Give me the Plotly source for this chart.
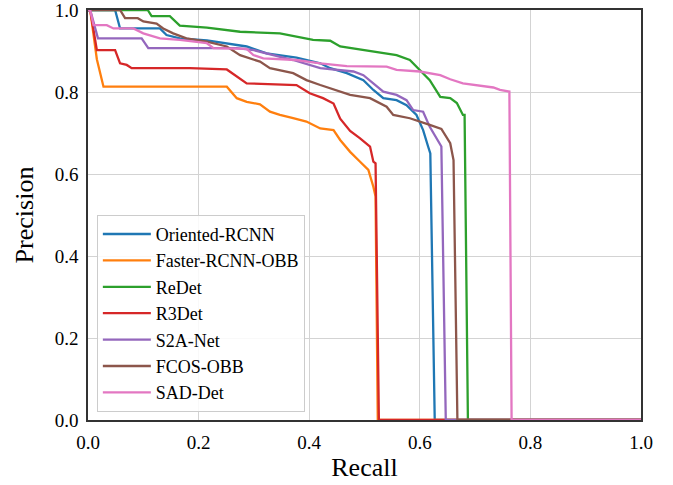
import plotly.graph_objects as go

names = ["Oriented-RCNN", "Faster-RCNN-OBB", "ReDet", "R3Det", "S2A-Net", "FCOS-OBB", "SAD-Det"]
colors = ["#1f77b4", "#ff7f0e", "#2ca02c", "#d62728", "#9467bd", "#8c564b", "#e377c2"]

oriented_r = [0, 0.049, 0.058, 0.130, 0.142, 0.166, 0.215, 0.245, 0.287, 0.323, 0.377, 0.42, 0.438, 0.468, 0.498,
              0.516, 0.534, 0.558, 0.576, 0.594, 0.606, 0.615, 0.619, 0.627, 1.0]
oriented_p = [1.0, 1.0, 0.955, 0.955, 0.939, 0.931, 0.926, 0.919, 0.911, 0.894, 0.884, 0.870, 0.858, 0.846, 0.829,
              0.805, 0.785, 0.780, 0.768, 0.744, 0.707, 0.667, 0.650, 0.0, 0.0]

faster_r = [0, 0.004, 0.016, 0.028, 0.251, 0.269, 0.287, 0.311, 0.329, 0.347, 0.371, 0.395, 0.42, 0.444, 0.456,
            0.474, 0.492, 0.507, 0.516, 0.520, 0.524, 1.0]
faster_p = [1.0, 1.0, 0.88, 0.813, 0.813, 0.785, 0.776, 0.770, 0.752, 0.744, 0.736, 0.728, 0.711, 0.707, 0.683,
            0.654, 0.630, 0.610, 0.569, 0.545, 0.0, 0.0]

redet_r = [0, 0.108, 0.115, 0.148, 0.166, 0.215, 0.275, 0.347, 0.407, 0.438, 0.456, 0.497, 0.558, 0.582, 0.600,
           0.618, 0.637, 0.655, 0.667, 0.678, 0.681, 0.687, 1.0]
redet_p = [1.0, 1.0, 0.985, 0.985, 0.962, 0.957, 0.947, 0.943, 0.927, 0.925, 0.911, 0.902, 0.890, 0.878, 0.854,
           0.829, 0.788, 0.785, 0.773, 0.744, 0.744, 0.0, 0.0]

r3det_r = [0, 0.004, 0.016, 0.049, 0.058, 0.070, 0.079, 0.184, 0.251, 0.287, 0.377, 0.401, 0.425, 0.444, 0.456,
           0.474, 0.492, 0.510, 0.516, 0.520, 0.526, 1.0]
r3det_p = [1.0, 1.0, 0.902, 0.902, 0.870, 0.866, 0.858, 0.858, 0.855, 0.821, 0.817, 0.797, 0.785, 0.772, 0.735,
           0.705, 0.687, 0.667, 0.630, 0.626, 0.0, 0.0]

s2a_r = [0, 0.004, 0.018, 0.097, 0.109, 0.269, 0.30, 0.323, 0.371, 0.42, 0.48, 0.498, 0.516, 0.534, 0.558,
         0.576, 0.588, 0.606, 0.618, 0.637, 0.639, 0.647, 1.0]
s2a_p = [1.0, 1.0, 0.931, 0.931, 0.907, 0.907, 0.902, 0.894, 0.878, 0.858, 0.850, 0.841, 0.821, 0.801, 0.793,
         0.780, 0.756, 0.752, 0.715, 0.671, 0.667, 0.0, 0.0]

fcos_r = [0, 0.058, 0.067, 0.09, 0.1, 0.124, 0.136, 0.154, 0.178, 0.215, 0.251, 0.275, 0.311, 0.329, 0.371,
          0.395, 0.42, 0.438, 0.474, 0.510, 0.528, 0.540, 0.552, 0.582, 0.618, 0.639, 0.655, 0.661, 0.668, 1.0]
fcos_p = [1.0, 1.0, 0.980, 0.980, 0.972, 0.967, 0.955, 0.943, 0.931, 0.923, 0.911, 0.890, 0.874, 0.858, 0.846,
          0.829, 0.817, 0.809, 0.793, 0.785, 0.772, 0.764, 0.744, 0.736, 0.720, 0.710, 0.675, 0.634, 0.0, 0.0]

sad_r = [0, 0.004, 0.010, 0.034, 0.046, 0.082, 0.1, 0.130, 0.166, 0.215, 0.227, 0.287, 0.299, 0.317, 0.377,
         0.42, 0.468, 0.540, 0.558, 0.600, 0.637, 0.655, 0.678, 0.715, 0.733, 0.745, 0.760, 0.762, 0.766, 1.0]
sad_p = [1.0, 1.0, 0.963, 0.963, 0.955, 0.955, 0.943, 0.931, 0.927, 0.919, 0.907, 0.905, 0.890, 0.882, 0.878,
         0.870, 0.863, 0.862, 0.854, 0.850, 0.841, 0.831, 0.821, 0.815, 0.811, 0.805, 0.801, 0.801, 0.0, 0.0]

recalls = [oriented_r, faster_r, redet_r, r3det_r, s2a_r, fcos_r, sad_r]
precisions = [oriented_p, faster_p, redet_p, r3det_p, s2a_p, fcos_p, sad_p]

tick_vals = [0.0, 0.2, 0.4, 0.6, 0.8, 1.0]
tick_text = ["0.0", "0.2", "0.4", "0.6", "0.8", "1.0"]

FONT = "Liberation Serif, Times New Roman, serif"

fig = go.Figure()
for n, c, r, p in zip(names, colors, recalls, precisions):
    fig.add_trace(go.Scatter(x=r, y=p, mode="lines", name=n,
                             line=dict(color=c, width=2.3)))

axis_common = dict(
    range=[0, 1], tickvals=tick_vals, ticktext=tick_text,
    showgrid=True, gridcolor="#d3d3d3", gridwidth=1.2,
    showline=True, linecolor="#333333", linewidth=1.5, mirror=True,
    zeroline=False, ticks="outside", ticklen=4, tickcolor="rgba(0,0,0,0)",
    tickfont=dict(family=FONT, size=19, color="black"),
    automargin=False, ticklabeloverflow="allow",
)

fig.update_layout(
    width=673, height=485,
    margin=dict(l=88, r=32, t=10, b=65),
    paper_bgcolor="white", plot_bgcolor="white",
    font=dict(family=FONT, color="black"),
    xaxis=dict(title=dict(text="Recall", font=dict(family=FONT, size=26), standoff=6), **axis_common),
    yaxis=dict(title=dict(text="Precision", font=dict(family=FONT, size=26), standoff=14), **axis_common),
    legend=dict(x=0.016, y=0.02, xanchor="left", yanchor="bottom",
                bgcolor="rgba(255,255,255,0.85)", bordercolor="#cccccc", borderwidth=1,
                font=dict(family=FONT, size=18, color="black"), itemwidth=48),
    showlegend=True,
)

fig.write_html("out.html", config={"displayModeBar": False},
               post_script="document.body.style.margin='0';")
